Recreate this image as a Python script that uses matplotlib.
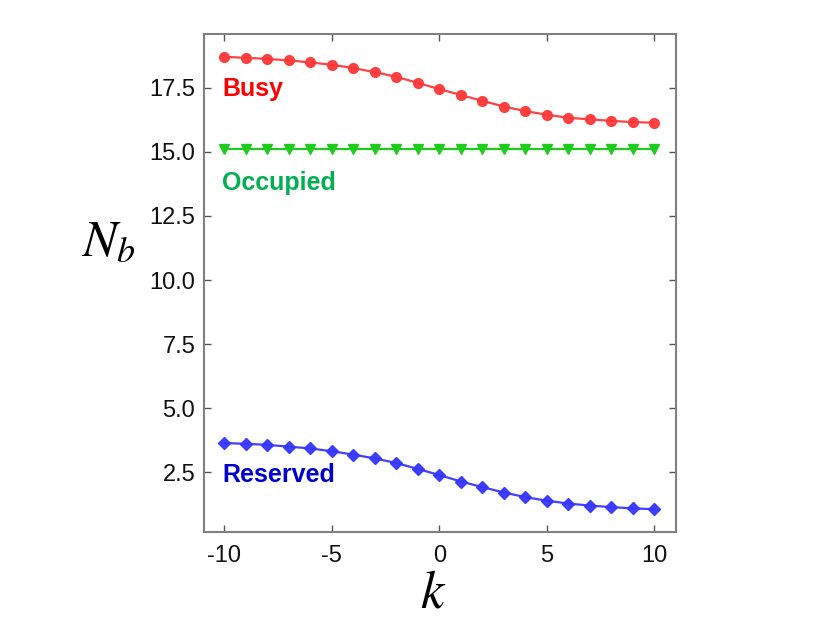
import matplotlib
matplotlib.use("Agg")
import matplotlib.pyplot as plt

k = list(range(-10, 11))
busy = [18.71, 18.67, 18.63, 18.57, 18.49, 18.40, 18.27, 18.11, 17.93, 17.69,
        17.45, 17.22, 16.99, 16.77, 16.59, 16.45, 16.33, 16.27, 16.21, 16.16, 16.14]
occupied = [15.11] * 21
reserved = [3.64, 3.61, 3.57, 3.50, 3.43, 3.32, 3.19, 3.04, 2.86, 2.63,
            2.39, 2.14, 1.92, 1.71, 1.53, 1.39, 1.28, 1.20, 1.14, 1.09, 1.06]
series_labels = ["Busy", "Occupied", "Reserved"]
yticks = [2.5, 5.0, 7.5, 10.0, 12.5, 15.0, 17.5]
xticks = [-10, -5, 0, 5, 10]

plt.rcParams['font.family'] = ['Liberation Sans', 'DejaVu Sans']
plt.rcParams['mathtext.fontset'] = 'stix'

fig = plt.figure(figsize=(8.3, 6.23), dpi=100)
ax = fig.add_axes([203.5/830, 1 - 532/623, (676 - 203.5)/830, (532 - 34)/623])

red = '#ff3838'
green = '#1ecc1e'
blue = '#3636ff'
ax.plot(k, busy, '-o', color=red, ms=7, lw=1.6, alpha=0.95)
ax.plot(k, occupied, '-v', color=green, ms=7.5, lw=1.6)
ax.plot(k, reserved, '-D', color=blue, ms=5.8, lw=1.6, alpha=0.95)

ax.set_xlim(-10.97, 11.0)
ax.set_ylim(0.17, 19.6)
ax.set_xticks(xticks)
ax.set_xticklabels([str(x) for x in xticks])
ax.set_yticks(yticks)
ax.set_yticklabels([f"{y:.1f}" for y in yticks])

for s in ax.spines.values():
    s.set_color('#808080')
    s.set_linewidth(1.5)
ax.tick_params(direction='in', length=5, width=1, color='#555555',
               top=True, right=True, labelsize=17, pad=6, labelcolor='#111111')
ax.tick_params(axis='x', pad=9)

ax.text(-10.1, 17.45, series_labels[0], color='#ff0000', fontsize=18,
        fontweight='bold', va='center', ha='left')
ax.text(-10.1, 13.8, series_labels[1], color='#00b050', fontsize=18,
        fontweight='bold', va='center', ha='left')
ax.text(-10.1, 2.38, series_labels[2], color='#0000cc', fontsize=18,
        fontweight='bold', va='center', ha='left')

fig.text(108/830, 1 - 243/623, r'$N_b$', fontsize=37, ha='center', va='center')
fig.text(433/830, 1 - 594/623, r'$k$', fontsize=38, ha='center', va='center')

fig.savefig('out.png', dpi=100)
